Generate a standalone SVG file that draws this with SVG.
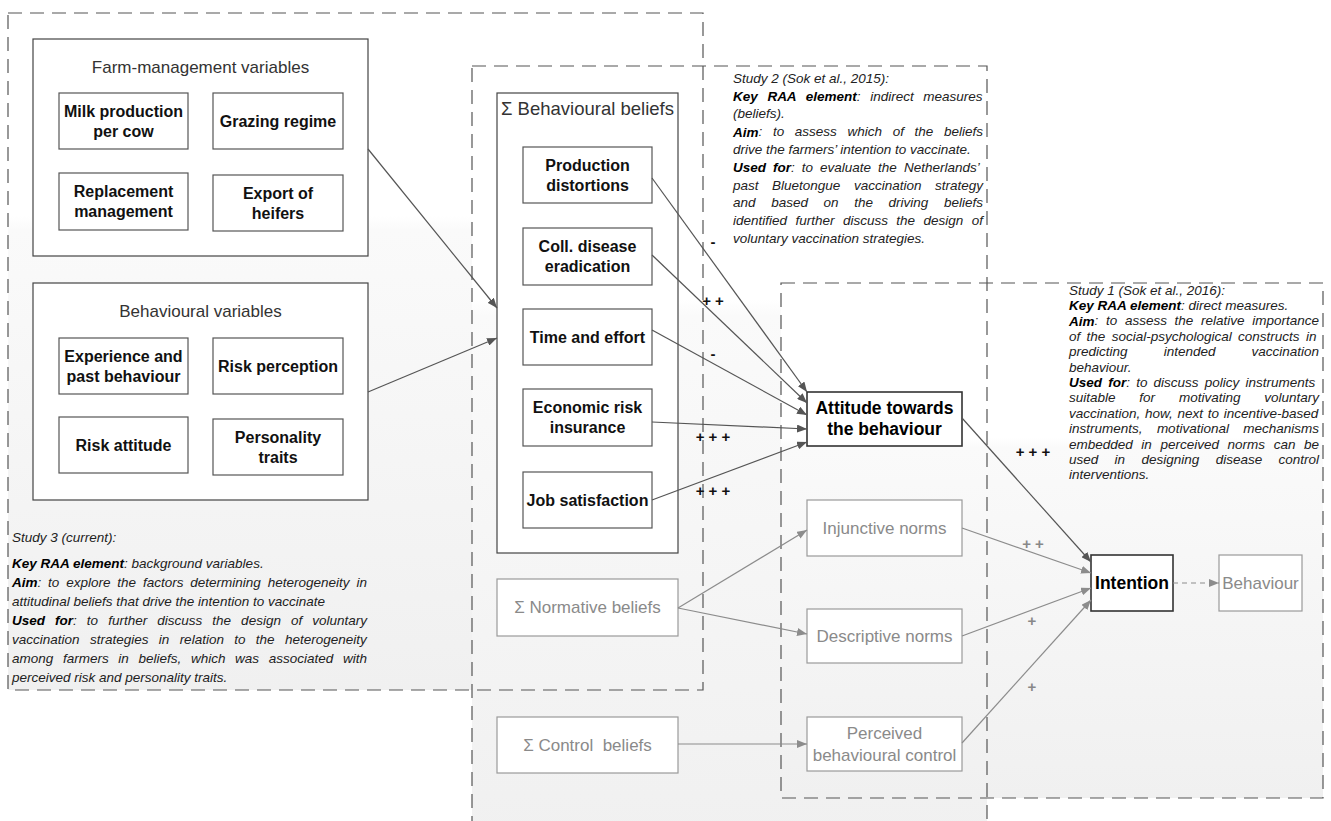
<svg xmlns="http://www.w3.org/2000/svg" width="1331" height="821" viewBox="0 0 1331 821">
<style>
.dash{fill:none;stroke:#555;stroke-width:1.2;stroke-dasharray:14 8}
.grp{fill:#fff;stroke:#444;stroke-width:1.2}
.nb{fill:#fff;stroke:#555;stroke-width:1.2}
.ng{fill:#fff;stroke:#9a9a9a;stroke-width:1.2}
.nk{fill:#fff;stroke:#333;stroke-width:1.6}
text{font-family:"Liberation Sans",Arial,sans-serif;dominant-baseline:central}
.tb{font-weight:bold;font-size:16px;fill:#111;text-anchor:middle}
.tk{font-weight:bold;font-size:17.5px;fill:#000;text-anchor:middle}
.tg{font-size:17px;fill:#8a8a8a;text-anchor:middle}
.tt{font-size:17px;fill:#333;text-anchor:middle}
.st{font-style:italic;font-size:13.5px;fill:#222}
.b{font-weight:bold;fill:#000}
.c{fill:none;stroke:#555;stroke-width:1.2}
.cg{fill:none;stroke:#8c8c8c;stroke-width:1.2}
.lab{font-weight:bold;font-size:15px;fill:#111;text-anchor:middle}
.labg{font-weight:bold;font-size:15px;fill:#888;text-anchor:middle}
</style>
<defs>
<linearGradient id="bg" x1="0" y1="0" x2="0" y2="1">
<stop offset="0" stop-color="#ffffff"/>
<stop offset="0.3" stop-color="#ffffff"/>
<stop offset="0.32" stop-color="#fafafa"/>
<stop offset="1" stop-color="#f0f0f0"/>
</linearGradient>
<marker id="ad" markerUnits="userSpaceOnUse" markerWidth="10" markerHeight="8" refX="10" refY="4" orient="auto">
<path d="M0,0 L10,4 L0,8 z" fill="#555"/>
</marker>
<marker id="ag" markerUnits="userSpaceOnUse" markerWidth="10" markerHeight="8" refX="10" refY="4" orient="auto">
<path d="M0,0 L10,4 L0,8 z" fill="#8c8c8c"/>
</marker>
</defs>

<g id="study-areas">
<rect x="8" y="13" width="695" height="677" fill="url(#bg)"/>
<rect x="472" y="66" width="515" height="780" fill="url(#bg)"/>
<rect x="781" y="283" width="542" height="515" fill="url(#bg)"/>
<rect class="dash" x="8" y="13" width="695" height="677"/>
<rect class="dash" x="472" y="66" width="515" height="780"/>
<rect class="dash" x="781" y="283" width="542" height="515"/>
</g>

<g id="farm-management">
<rect class="grp" x="33" y="39" width="335" height="217"/>
<text class="tt" x="200.5" y="67">Farm-management variables</text>
</g>
<g id="milk-production"><rect class="nb" x="59" y="93" width="129" height="56"/><text class="tb" x="123.5" y="111">Milk production</text><text class="tb" x="123.5" y="131">per cow</text></g>
<g id="grazing-regime"><rect class="nb" x="213" y="93" width="130" height="56"/><text class="tb" x="278" y="121">Grazing regime</text></g>
<g id="replacement"><rect class="nb" x="59" y="173" width="129" height="57"/><text class="tb" x="123.5" y="191.5">Replacement</text><text class="tb" x="123.5" y="211.5">management</text></g>
<g id="export-heifers"><rect class="nb" x="213" y="175" width="130" height="56"/><text class="tb" x="278" y="193">Export of</text><text class="tb" x="278" y="213">heifers</text></g>

<g id="behavioural-variables">
<rect class="grp" x="33" y="283" width="335" height="217"/>
<text class="tt" x="200.5" y="311">Behavioural variables</text>
</g>
<g id="experience"><rect class="nb" x="59" y="338" width="129" height="56"/><text class="tb" x="123.5" y="356">Experience and</text><text class="tb" x="123.5" y="376">past behaviour</text></g>
<g id="risk-perception"><rect class="nb" x="213" y="338" width="130" height="56"/><text class="tb" x="278" y="366">Risk perception</text></g>
<g id="risk-attitude"><rect class="nb" x="59" y="417" width="129" height="56"/><text class="tb" x="123.5" y="445">Risk attitude</text></g>
<g id="personality"><rect class="nb" x="213" y="419" width="130" height="56"/><text class="tb" x="278" y="437">Personality</text><text class="tb" x="278" y="457">traits</text></g>

<g id="behavioural-beliefs">
<rect class="grp" x="497" y="93" width="181" height="460"/>
<text x="587.5" y="108" style="font-size:18.5px;fill:#333;text-anchor:middle">Σ Behavioural beliefs</text>
</g>
<g id="production-distortions"><rect class="nb" x="523" y="147" width="129" height="56"/><text class="tb" x="587.5" y="165">Production</text><text class="tb" x="587.5" y="185">distortions</text></g>
<g id="coll-disease"><rect class="nb" x="523" y="228" width="129" height="57"/><text class="tb" x="587.5" y="246.5">Coll. disease</text><text class="tb" x="587.5" y="266.5">eradication</text></g>
<g id="time-effort"><rect class="nb" x="523" y="309" width="129" height="56"/><text class="tb" x="587.5" y="337">Time and effort</text></g>
<g id="economic-risk"><rect class="nb" x="523" y="389" width="129" height="57"/><text class="tb" x="587.5" y="407.5">Economic risk</text><text class="tb" x="587.5" y="427.5">insurance</text></g>
<g id="job-satisfaction"><rect class="nb" x="523" y="472" width="129" height="56"/><text class="tb" x="587.5" y="500">Job satisfaction</text></g>

<g id="normative-beliefs"><rect class="ng" x="497" y="579" width="181" height="57"/><text class="tg" x="587.5" y="607.5">Σ Normative beliefs</text></g>
<g id="control-beliefs"><rect class="ng" x="497" y="717" width="181" height="56"/><text class="tg" x="587.5" y="745" xml:space="preserve">Σ Control  beliefs</text></g>

<g id="attitude"><rect class="nk" x="807" y="392" width="155" height="54"/><text class="tk" x="884.5" y="408">Attitude towards</text><text class="tk" x="884.5" y="429">the behaviour</text></g>
<g id="injunctive-norms"><rect class="ng" x="807" y="500" width="155" height="56"/><text class="tg" x="884.5" y="528">Injunctive norms</text></g>
<g id="descriptive-norms"><rect class="ng" x="807" y="609" width="155" height="54"/><text class="tg" x="884.5" y="636">Descriptive norms</text></g>
<g id="perceived-control"><rect class="ng" x="807" y="717" width="155" height="54"/><text class="tg" x="884.5" y="733">Perceived</text><text class="tg" x="884.5" y="755">behavioural control</text></g>
<g id="intention"><rect class="nk" x="1091" y="555" width="82" height="56"/><text class="tk" x="1132" y="583">Intention</text></g>
<g id="behaviour"><rect class="ng" x="1219" y="555" width="83" height="56"/><text class="tg" x="1260.5" y="583">Behaviour</text></g>

<g id="connectors">
<line class="c" x1="368" y1="149" x2="497" y2="308" marker-end="url(#ad)"/>
<line class="c" x1="368" y1="392" x2="497" y2="338" marker-end="url(#ad)"/>
<line class="c" x1="652" y1="178" x2="807" y2="392" marker-end="url(#ad)"/>
<line class="c" x1="652" y1="255" x2="807" y2="403" marker-end="url(#ad)"/>
<line class="c" x1="652" y1="330" x2="807" y2="415" marker-end="url(#ad)"/>
<line class="c" x1="652" y1="422" x2="807" y2="429" marker-end="url(#ad)"/>
<line class="c" x1="652" y1="500" x2="807" y2="442" marker-end="url(#ad)"/>
<line class="c" x1="962" y1="418" x2="1091" y2="562" marker-end="url(#ad)"/>
<line class="cg" x1="962" y1="528" x2="1091" y2="573" marker-end="url(#ag)"/>
<line class="cg" x1="962" y1="636" x2="1091" y2="588" marker-end="url(#ag)"/>
<line class="cg" x1="962" y1="743" x2="1091" y2="600" marker-end="url(#ag)"/>
<line class="cg" x1="678" y1="608" x2="807" y2="530" marker-end="url(#ag)"/>
<line class="cg" x1="678" y1="608" x2="807" y2="634" marker-end="url(#ag)"/>
<line class="cg" x1="678" y1="744" x2="807" y2="744" marker-end="url(#ag)"/>
<line class="cg" x1="1173" y1="583" x2="1219" y2="583" stroke-dasharray="5 4" marker-end="url(#ag)"/>
</g>

<g id="connector-labels">
<text class="lab" x="713" y="241">-</text>
<text class="lab" x="713" y="300">+ +</text>
<text class="lab" x="713" y="353">-</text>
<text class="lab" x="713" y="436">+ + +</text>
<text class="lab" x="713" y="490">+ + +</text>
<text class="lab" x="1033" y="451">+ + +</text>
<text class="labg" x="1033" y="543">+ +</text>
<text class="labg" x="1032" y="620">+</text>
<text class="labg" x="1032" y="686">+</text>
</g>

<g id="study3-text">
<text class="st" x="12" y="537">Study 3 (current):</text>
<text class="st" x="12" y="563"><tspan class="b">Key RAA element</tspan>: background variables.</text>
<text class="st" x="12" y="582" style="word-spacing:3.1px"><tspan class="b">Aim</tspan>: to explore the factors determining heterogeneity in</text>
<text class="st" x="12" y="601">attitudinal beliefs that drive the intention to vaccinate</text>
<text class="st" x="12" y="620" style="word-spacing:6.3px"><tspan class="b">Used for</tspan>: to further discuss the design of voluntary</text>
<text class="st" x="12" y="639" style="word-spacing:6.6px">vaccination strategies in relation to the heterogeneity</text>
<text class="st" x="12" y="658" style="word-spacing:5.9px">among farmers in beliefs, which was associated with</text>
<text class="st" x="12" y="677">perceived risk and personality traits.</text>
</g>

<g id="study2-text">
<text class="st" x="733" y="78">Study 2 (Sok et al., 2015):</text>
<text class="st" x="733" y="96" style="word-spacing:5.86px"><tspan class="b">Key RAA element</tspan>: indirect measures</text>
<text class="st" x="733" y="113.8">(beliefs).</text>
<text class="st" x="733" y="131.6" style="word-spacing:6.9px"><tspan class="b">Aim</tspan>: to assess which of the beliefs</text>
<text class="st" x="733" y="149.4">drive the farmers’ intention to vaccinate.</text>
<text class="st" x="733" y="167.2" style="word-spacing:3.26px"><tspan class="b">Used for</tspan>: to evaluate the Netherlands’</text>
<text class="st" x="733" y="185" style="word-spacing:9.8px">past Bluetongue vaccination strategy</text>
<text class="st" x="733" y="202.8" style="word-spacing:11.88px">and based on the driving beliefs</text>
<text class="st" x="733" y="220.6" style="word-spacing:4.68px">identified further discuss the design of</text>
<text class="st" x="733" y="238.4">voluntary vaccination strategies.</text>
</g>

<g id="study1-text">
<text class="st" x="1069" y="290">Study 1 (Sok et al., 2016):</text>
<text class="st" x="1069" y="305.4"><tspan class="b">Key RAA element</tspan>: direct measures.</text>
<text class="st" x="1069" y="320.8" style="word-spacing:3.94px"><tspan class="b">Aim</tspan>: to assess the relative importance</text>
<text class="st" x="1069" y="336.2" style="word-spacing:2.58px">of the social-psychological constructs in</text>
<text class="st" x="1069" y="351.6" style="word-spacing:32.35px">predicting intended vaccination</text>
<text class="st" x="1069" y="367">behaviour.</text>
<text class="st" x="1069" y="382.4" style="word-spacing:2.44px"><tspan class="b">Used for</tspan>: to discuss policy instruments</text>
<text class="st" x="1069" y="397.8" style="word-spacing:20.07px">suitable for motivating voluntary</text>
<text class="st" x="1069" y="413.2" style="word-spacing:0.98px">vaccination, how, next to incentive-based</text>
<text class="st" x="1069" y="428.6" style="word-spacing:10.6px">instruments, motivational mechanisms</text>
<text class="st" x="1069" y="444" style="word-spacing:4.82px">embedded in perceived norms can be</text>
<text class="st" x="1069" y="459.4" style="word-spacing:12.6px">used in designing disease control</text>
<text class="st" x="1069" y="474.8">interventions.</text>
</g>
</svg>
